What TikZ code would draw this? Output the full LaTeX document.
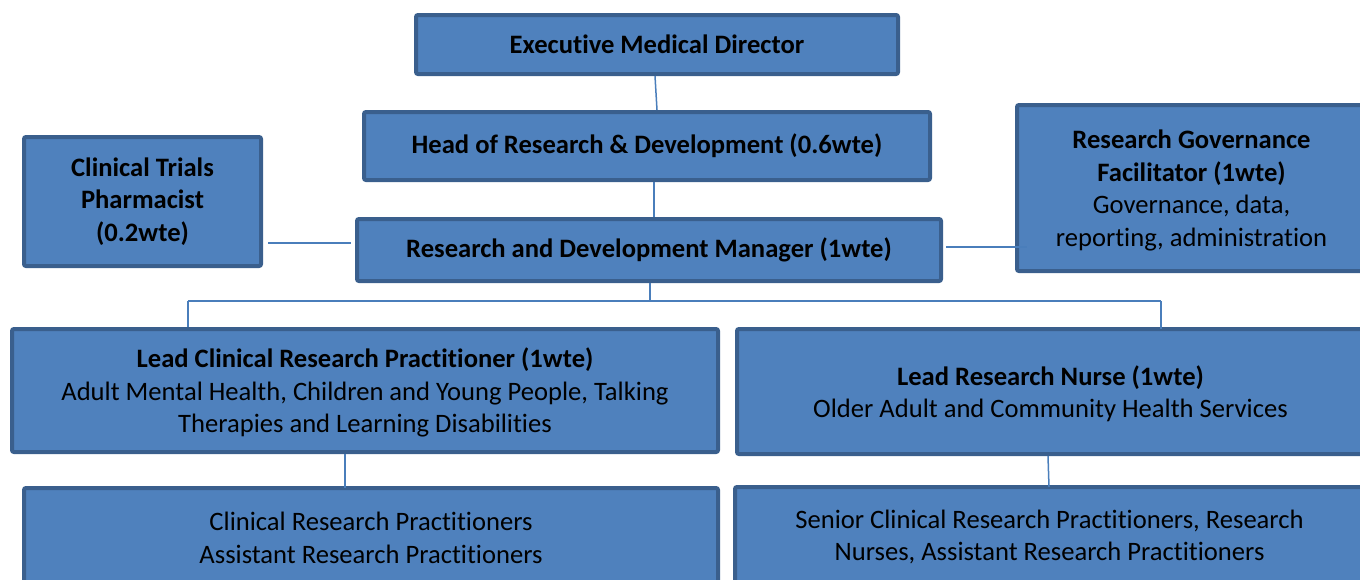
\documentclass[tikz,border=0pt]{standalone}
\usepackage{fontspec}
\setmainfont{Carlito}[Ligatures={NoCommon}]
\definecolor{boxfill}{HTML}{4F81BD}
\definecolor{boxline}{HTML}{3A5F8D}
\definecolor{conn}{HTML}{4A7EBB}
\begin{document}
\begin{tikzpicture}[x=1pt,y=-1pt,
  orgbox/.style={draw=boxline, fill=boxfill, line width=4pt, rounded corners=2pt,
    align=center, inner sep=0pt, font=\fontsize{26.6}{32.5}\selectfont, text=black},
  lowtext/.style={text depth=0pt},
  link/.style={draw=conn, line width=1.5pt}]
\useasboundingbox (0,0) rectangle (1360,579);
\clip (0,0) rectangle (1360,579);
% boxes
\node[orgbox, minimum width=482pt, minimum height=59pt] (emd) at (657,44.5) {\textbf{Executive Medical Director}};
\node[orgbox, minimum width=566pt, minimum height=68pt] (head) at (647,146) {\textbf{Head of Research \& Development (0.6wte)}};
\node[orgbox, minimum width=237pt, minimum height=129pt] (pharm) at (142.5,201.5) {\textbf{Clinical Trials}\\\textbf{Pharmacist}\\\textbf{(0.2wte)}};
\node[orgbox, minimum width=584pt, minimum height=62pt] (mgr) at (649,250) {\textbf{Research and Development Manager (1wte)}};
\node[orgbox, lowtext, minimum width=349pt, minimum height=166pt] (gov) at (1191.5,188) {\textbf{Research Governance}\\\textbf{Facilitator (1wte)}\\Governance, data,\\reporting, administration};
\node[orgbox, lowtext, minimum width=706pt, minimum height=123pt] (lcrp) at (365,390.5) {\textbf{Lead Clinical Research Practitioner (1wte)}\\Adult Mental Health, Children and Young People, Talking\\Therapies and Learning Disabilities};
\node[orgbox, lowtext, minimum width=627pt, minimum height=125pt] (lrn) at (1050.5,391.5) {\textbf{Lead Research Nurse (1wte)}\\Older Adult and Community Health Services};
\node[orgbox, minimum width=694pt, minimum height=100pt] (crp) at (371,538) {Clinical Research Practitioners\\Assistant Research Practitioners};
\node[orgbox, minimum width=629pt, minimum height=100pt] (scrp) at (1049.5,537) {Senior Clinical Research Practitioners, Research\\Nurses, Assistant Research Practitioners};
% connectors
\draw[link] ([xshift=-2pt]emd.south) -- ([xshift=10pt]head.north);
\draw[link] ([xshift=7pt]head.south) -- ([xshift=5pt]mgr.north);
\draw[link] ([xshift=5pt,yshift=-41.5pt]pharm.east) -- ([xshift=-4pt,yshift=7pt]mgr.west);
\draw[link] ([xshift=3pt,yshift=3pt]mgr.east) -- ([xshift=12pt,yshift=-59pt]gov.west);
\coordinate (busL) at (188,301);
\coordinate (busR) at (1161,301);
\draw[link] ([xshift=1pt]mgr.south) -- ([xshift=1pt]mgr.south |- busL);
\draw[link] (busL) -- (busR);
\draw[link] (busL) -- (busL |- lcrp.north);
\draw[link] (busR) -- ([yshift=-2pt]busR |- lrn.north);
\draw[link] ([xshift=-20pt]lcrp.south) -- ([xshift=-26pt,yshift=-2pt]crp.north);
\draw[link] ([xshift=-2.5pt]lrn.south) -- ([xshift=-1.5pt,yshift=-2pt]lrn.south |- scrp.north);
\end{tikzpicture}
\end{document}
